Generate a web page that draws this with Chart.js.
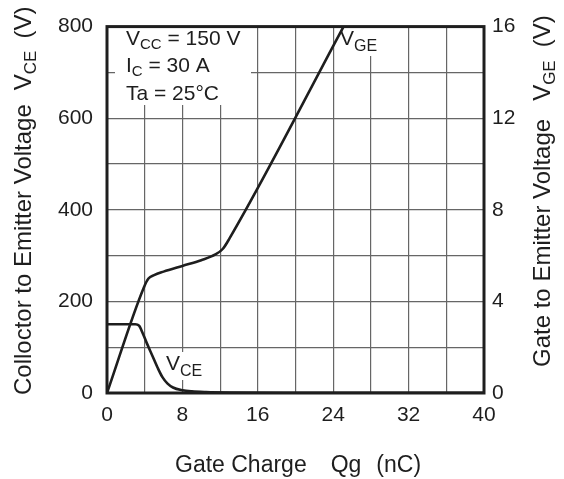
<!DOCTYPE html>
<html>
<head>
<meta charset="utf-8">
<script src="https://cdn.jsdelivr.net/npm/chart.js@4.4.1/dist/chart.umd.min.js"></script>
<style>
  html, body { margin: 0; padding: 0; background: #fff; }
</style>
</head>
<body>
<canvas id="chart" width="564" height="479"></canvas>
<script>
const FONT = '"Liberation Sans", Arial, sans-serif';
const INK = '#1e1e1e';

// gate charge axis (nC), voltage axes (V)
const qgRange = [0, 40];
const vceRange = [0, 800];
const vgeRange = [0, 16];

// V_GE curve (right axis)
const vgeQg    = [0, 3.9, 4.4, 5.0, 6.0, 8.0, 10.0, 11.5, 12.3, 13.0, 25.1];
const vgeVolts = [0, 4.6, 5.0, 5.15, 5.3, 5.55, 5.8, 6.05, 6.3, 6.75, 16];

// V_CE curve (left axis)
const vceQg    = [0, 3.0, 3.4, 3.8, 4.2, 4.8, 5.4, 5.9, 6.4, 7.0, 8.0, 9.0, 10.5, 13, 20, 40];
const vceVolts = [150, 150, 147, 130, 110, 82, 54, 34, 21, 12, 6, 3.5, 2, 1, 0.5, 0.3];

const toPoints = (xs, ys) => xs.map((x, i) => ({ x: x, y: ys[i] }));

// draws text pieces one after another, [text, size, dy]
const drawParts = (c, parts, x, y) => {
    parts.forEach(p => {
        if (p[0] === null) { x += p[1]; return; }
        c.font = p[1] + 'px ' + FONT;
        c.fillText(p[0], x, y + (p[2] || 0));
        x += c.measureText(p[0]).width;
    });
    return x;
};

const whiteBox = (c, x, y, w, h) => {
    c.fillStyle = '#fff';
    c.fillRect(x, y, w, h);
};

const decor = {
    id: 'decor',
    beforeDatasetsDraw(chart) {
        const c = chart.ctx;
        c.save();
        c.textBaseline = 'alphabetic';
        // condition box
        whiteBox(c, 115, 23, 136, 82);
        c.fillStyle = INK;
        drawParts(c, [['V', 21], ['CC', 15, 4], [' = 150 V', 21]], 126, 45);
        drawParts(c, [['I', 21], ['C', 15, 4], [' = 30 A', 21]], 126, 72);
        drawParts(c, [['Ta = 25\u00B0C', 21]], 126, 100);
        // curve labels
        whiteBox(c, 339, 28, 40, 28);
        whiteBox(c, 165, 352, 40, 28);
        c.fillStyle = INK;
        drawParts(c, [['V', 21], ['GE', 16, 6]], 340, 45);
        drawParts(c, [['V', 21], ['CE', 16, 6]], 166, 370);
        c.restore();
    },
    afterDraw(chart) {
        const c = chart.ctx;
        const a = chart.chartArea;
        c.save();
        c.strokeStyle = INK;
        c.lineWidth = 3;
        c.strokeRect(a.left, a.top, a.right - a.left, a.bottom - a.top);

        c.fillStyle = INK;
        c.textBaseline = 'alphabetic';
        // left title
        c.save();
        c.translate(31, 395);
        c.rotate(-Math.PI / 2);
        drawParts(c, [['Colloctor to Emitter Voltage', 24], [null, 14], ['V', 24], ['CE', 17, 5], [null, 12], ['(V)', 24]], 0, 0);
        c.restore();
        // right title
        c.save();
        c.translate(550, 367);
        c.rotate(-Math.PI / 2);
        drawParts(c, [['Gate to Emitter Voltage', 24], [null, 18], ['V', 24], ['GE', 17, 5], [null, 13], ['(V)', 24]], 0, 0);
        c.restore();
        // bottom title
        drawParts(c, [['Gate Charge', 23], [null, 24], ['Qg', 23], [null, 15], ['(nC)', 23]], 175, 472);
        c.restore();
    }
};

const tickFont = { family: FONT, size: 21 };

new Chart(document.querySelector('#chart').getContext('2d'), {
    type: 'line',
    data: {
        datasets: [{
            label: 'VGE',
            data: toPoints(vgeQg, vgeVolts),
            yAxisID: 'y2',
            borderColor: INK,
            borderWidth: 2.6,
            pointRadius: 0,
            fill: false,
            cubicInterpolationMode: 'monotone'
        },
        {
            label: 'VCE',
            data: toPoints(vceQg, vceVolts),
            yAxisID: 'y',
            borderColor: INK,
            borderWidth: 2.6,
            pointRadius: 0,
            fill: false,
            cubicInterpolationMode: 'monotone'
        }]
    },
    options: {
        responsive: false,
        animation: false,
        layout: { padding: { top: 16, left: 0, right: 0, bottom: 0 } },
        plugins: { legend: { display: false }, tooltip: { enabled: false } },
        scales: {
            x: {
                type: 'linear',
                min: qgRange[0], max: qgRange[1],
                ticks: { stepSize: 4, autoSkip: false, maxRotation: 0, padding: 10, color: INK, font: tickFont,
                         callback: v => (v % 8 === 0 ? v : '') },
                grid: { color: '#666', lineWidth: 1.2, drawTicks: false },
                border: { display: false },
                afterFit: s => { s.height = 86; }
            },
            y: {
                position: 'left',
                min: vceRange[0], max: vceRange[1],
                ticks: { stepSize: 100, autoSkip: false, padding: 14, color: INK, font: tickFont,
                         callback: v => (v % 200 === 0 ? v : '') },
                grid: { color: '#666', lineWidth: 1.2, drawTicks: false },
                border: { display: false },
                afterFit: s => { s.width = 107; }
            },
            y2: {
                position: 'right',
                min: vgeRange[0], max: vgeRange[1],
                ticks: { stepSize: 2, autoSkip: false, padding: 8, color: INK, font: tickFont,
                         callback: v => (v % 4 === 0 ? v : '') },
                grid: { display: false, drawTicks: false },
                border: { display: false },
                afterFit: s => { s.width = 80; }
            }
        }
    },
    plugins: [decor]
});
</script>
</body>
</html>
